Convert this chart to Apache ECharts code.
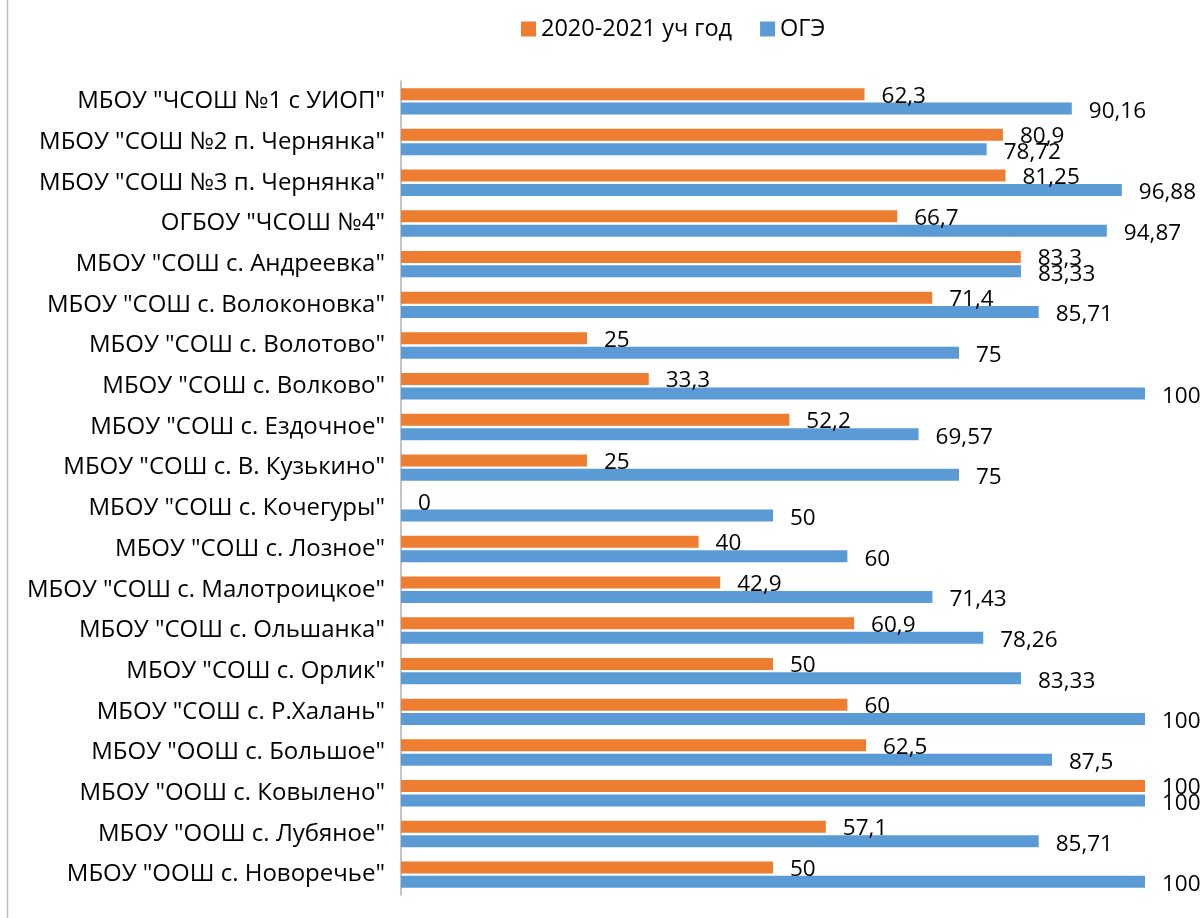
<!DOCTYPE html>
<html>
<head>
<meta charset="utf-8">
<script src="https://cdn.jsdelivr.net/npm/echarts@6/dist/echarts.min.js"></script>
<style>html,body{margin:0;padding:0;background:#fff}#c{width:1204px;height:918px}</style>
</head>
<body>
<div id="c"></div>
<script>
const categories = [
  'МБОУ "ЧСОШ №1 с УИОП"',
  'МБОУ "СОШ №2 п. Чернянка"',
  'МБОУ "СОШ №3 п. Чернянка"',
  'ОГБОУ "ЧСОШ №4"',
  'МБОУ "СОШ с. Андреевка"',
  'МБОУ "СОШ с. Волоконовка"',
  'МБОУ "СОШ с. Волотово"',
  'МБОУ "СОШ с. Волково"',
  'МБОУ "СОШ с. Ездочное"',
  'МБОУ "СОШ с. В. Кузькино"',
  'МБОУ "СОШ с. Кочегуры"',
  'МБОУ "СОШ с. Лозное"',
  'МБОУ "СОШ с. Малотроицкое"',
  'МБОУ "СОШ с. Ольшанка"',
  'МБОУ "СОШ с. Орлик"',
  'МБОУ "СОШ с. Р.Халань"',
  'МБОУ "ООШ с. Большое"',
  'МБОУ "ООШ с. Ковылено"',
  'МБОУ "ООШ с. Лубяное"',
  'МБОУ "ООШ с. Новоречье"'
];
const seriesNames = ['2020-2021 уч год', 'ОГЭ'];
const year2021 = [62.3, 80.9, 81.25, 66.7, 83.3, 71.4, 25, 33.3, 52.2, 25, 0, 40, 42.9, 60.9, 50, 60, 62.5, 100, 57.1, 50];
const oge = [90.16, 78.72, 96.88, 94.87, 83.33, 85.71, 75, 100, 69.57, 75, 50, 60, 71.43, 78.26, 83.33, 100, 87.5, 100, 85.71, 100];

const FONT = 'Open Sans';
const fmt = p => String(p.value).replace('.', ',');
const chart = echarts.init(document.getElementById('c'));
chart.setOption({
  animation: false,
  textStyle: { fontFamily: FONT },
  legend: {
    top: 12, left: 516,
    itemWidth: 15, itemHeight: 15, itemGap: 28,
    icon: 'rect',
    textStyle: { fontSize: 23.5, color: '#000', fontFamily: FONT },
    data: seriesNames
  },
  grid: { left: 401, right: 59, top: 81, bottom: 23, containLabel: false },
  xAxis: {
    type: 'value', min: 0, max: 100,
    axisLabel: { show: false }, axisLine: { show: false }, axisTick: { show: false },
    splitLine: { show: false }
  },
  yAxis: {
    type: 'category', data: categories, inverse: true,
    axisLine: { show: true, lineStyle: { color: '#b0b0b0', width: 1.5 } },
    axisTick: { show: false },
    axisLabel: { color: '#000', fontSize: 24, margin: 16, fontFamily: FONT }
  },
  series: [
    {
      name: seriesNames[0], type: 'bar', data: year2021,
      barWidth: 12, barGap: '20%',
      itemStyle: { color: '#ED7D31' },
      label: { show: true, position: 'right', distance: 17, offset: [0, 2], color: '#000', fontSize: 22.5, fontFamily: FONT, formatter: fmt }
    },
    {
      name: seriesNames[1], type: 'bar', data: oge,
      barWidth: 12, barGap: '20%',
      itemStyle: { color: '#5B9BD5' },
      label: { show: true, position: 'right', distance: 17, offset: [0, 3], color: '#000', fontSize: 22.5, fontFamily: FONT, formatter: fmt }
    }
  ],
  graphic: [
    { type: 'line', shape: { x1: 7.5, y1: 0, x2: 7.5, y2: 918 }, style: { stroke: '#bfbfbf', lineWidth: 1.5 } }
  ]
});
</script>
</body>
</html>
